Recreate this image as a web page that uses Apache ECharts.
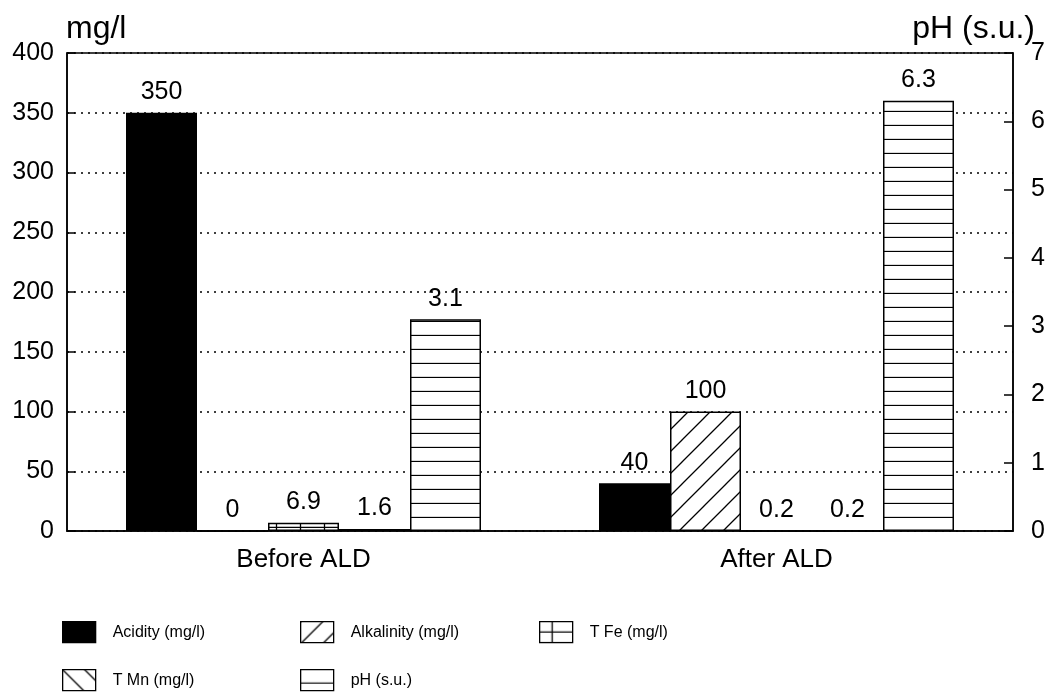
<!DOCTYPE html>
<html>
<head>
<meta charset="utf-8">
<script src="https://cdn.jsdelivr.net/npm/echarts@6/dist/echarts.min.js"></script>
<style>
html,body{margin:0;padding:0;background:#fff;}
#chart{width:1053px;height:694px;}
</style>
</head>
<body>
<div id="chart"></div>
<script>
var categories = ['Before ALD', 'After ALD'];
var seriesNames = ['Acidity (mg/l)', 'Alkalinity (mg/l)', 'T Fe (mg/l)', 'T Mn (mg/l)', 'pH (s.u.)'];
var acidity = [350, 40];
var alkalinity = [0, 100];
var tFe = [6.9, 0.2];
var tMn = [1.6, 0.2];
var pH = [3.1, 6.3];
var leftTicks = [0, 400, 50];
var rightTicks = [0, 7, 1];

function makePattern(w, h, draw) {
  var c = document.createElement('canvas');
  c.width = w; c.height = h;
  var ctx = c.getContext('2d');
  ctx.fillStyle = '#fff';
  ctx.fillRect(0, 0, w, h);
  ctx.strokeStyle = '#000';
  ctx.lineWidth = 1.3;
  draw(ctx, w, h);
  return { image: c, repeat: 'repeat' };
}
var patSlash = makePattern(22, 22, function (ctx, w, h) {
  ctx.beginPath();
  ctx.moveTo(0, h); ctx.lineTo(w, 0);
  ctx.moveTo(-2, 2); ctx.lineTo(2, -2);
  ctx.moveTo(w - 2, h + 2); ctx.lineTo(w + 2, h - 2);
  ctx.stroke();
});
var patBack = makePattern(22, 22, function (ctx, w, h) {
  ctx.beginPath();
  ctx.moveTo(0, 0); ctx.lineTo(w, h);
  ctx.moveTo(-2, h - 2); ctx.lineTo(2, h + 2);
  ctx.moveTo(w - 2, -2); ctx.lineTo(w + 2, 2);
  ctx.stroke();
});
var patGrid = makePattern(24, 11, function (ctx, w, h) {
  ctx.beginPath();
  ctx.moveTo(0, h - 0.5); ctx.lineTo(w, h - 0.5);
  ctx.moveTo(12.5, 0); ctx.lineTo(12.5, h);
  ctx.stroke();
});
var patHoriz = makePattern(20, 14, function (ctx, w, h) {
  ctx.beginPath();
  ctx.moveTo(0, h - 0.5); ctx.lineTo(w, h - 0.5);
  ctx.stroke();
});

var FONT = 'Liberation Sans, Arial, sans-serif';
var chart = echarts.init(document.getElementById('chart'));

function barSeries(name, data, fill, axisIdx) {
  return {
    name: name,
    type: 'bar',
    yAxisIndex: axisIdx,
    data: data,
    barWidth: 71,
    barGap: '0%',
    itemStyle: { color: fill, borderColor: '#000', borderWidth: 1.5 },
    label: {
      show: true, position: 'top', distance: 8,
      color: '#000', fontSize: 25, fontFamily: FONT
    }
  };
}

function legendItem(name, left, top) {
  return {
    data: [{ name: name, icon: 'rect' }], left: left, top: top, padding: 0,
    itemWidth: 33, itemHeight: 21,
    itemStyle: { borderColor: '#000', borderWidth: 1.3 },
    textStyle: { color: '#000', fontSize: 16, fontFamily: FONT, padding: [0, 0, 0, 12] },
    selectedMode: false
  };
}

chart.setOption({
  backgroundColor: '#fff',
  animation: false,
  grid: { left: 67, right: 40, top: 53, bottom: 163, show: true, borderColor: '#000', borderWidth: 1.5, backgroundColor: 'transparent' },
  legend: [
    legendItem(seriesNames[0], 62, 621),
    legendItem(seriesNames[1], 300, 621),
    legendItem(seriesNames[2], 539, 621),
    legendItem(seriesNames[3], 62, 669),
    legendItem(seriesNames[4], 300, 669)
  ],
  graphic: [
    { type: 'text', left: 66, top: 13, style: { text: 'mg/l', fontSize: 32, fontFamily: FONT, fill: '#000' } },
    { type: 'text', right: 18, top: 13, style: { text: 'pH (s.u.)', fontSize: 32, fontFamily: FONT, fill: '#000' } }
  ],
  xAxis: {
    type: 'category',
    data: categories,
    axisLine: { lineStyle: { color: '#000', width: 1.5 } },
    axisTick: { show: false },
    axisLabel: { color: '#000', fontSize: 26, fontFamily: FONT, margin: 16 }
  },
  yAxis: [
    {
      type: 'value', min: leftTicks[0], max: leftTicks[1], interval: leftTicks[2], position: 'left',
      axisLine: { show: true, lineStyle: { color: '#000', width: 1.5 } },
      axisTick: { show: true, inside: true, length: 8, lineStyle: { color: '#000', width: 1.5 } },
      axisLabel: { color: '#000', fontSize: 25, fontFamily: FONT, margin: 13 },
      splitLine: { show: true, lineStyle: { color: '#000', width: 1.5, type: [2, 5] } }
    },
    {
      type: 'value', min: rightTicks[0], max: rightTicks[1], interval: rightTicks[2], position: 'right',
      axisLine: { show: true, lineStyle: { color: '#000', width: 1.5 } },
      axisTick: { show: true, inside: true, length: 9, lineStyle: { color: '#000', width: 1.5 } },
      axisLabel: { color: '#000', fontSize: 25, fontFamily: FONT, margin: 18 },
      splitLine: { show: false }
    }
  ],
  series: [
    barSeries(seriesNames[0], acidity, '#000', 0),
    barSeries(seriesNames[1], alkalinity, patSlash, 0),
    barSeries(seriesNames[2], tFe, patGrid, 0),
    barSeries(seriesNames[3], tMn, patBack, 0),
    barSeries(seriesNames[4], pH, patHoriz, 1)
  ]
});
</script>
</body>
</html>
